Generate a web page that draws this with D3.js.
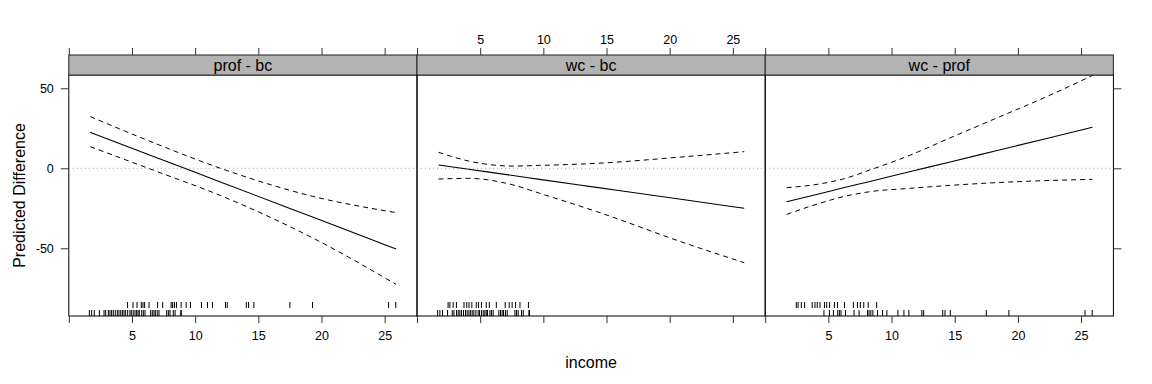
<!DOCTYPE html>
<html>
<head>
<meta charset="utf-8">
<script src="https://cdn.jsdelivr.net/npm/d3@7"></script>
<style>
  body { margin: 0; background: #fff; }
  svg { font-family: "Liberation Sans", Arial, Helvetica, sans-serif; }
</style>
</head>
<body>
<svg id="chart" width="1152" height="384"></svg>
<script>
// --- DATA ---
const panelNames = ["prof - bc", "wc - bc", "wc - prof"];
const xTicks = [0, 5, 10, 15, 20, 25];
const yTicks = [-50, 0, 50];

// fitted difference and confidence band
const grid1 = [1.7, 6.7, 12.0, 19.4, 25.9];
const fit1 = [22.5, 7.4, -8.5, -30.8, -50.4];
const upper1 = [32.3, 16.0, 0, -17.7, -27.7];
const lower1 = [13.5, -1.2, -17, -43.9, -72.5];

const grid2 = [1.7, 4.1, 7.6, 9.7, 14.2, 21.3, 25.9];
const fit2 = [2.1, -0.6, -4.5, -6.9, -11.9, -19.8, -25.0];
const upper2 = [10.0, 4.5, 1.4, 1.8, 3.1, 7.3, 10.4];
const lower2 = [-6.7, -6.3, -10.4, -15.6, -27, -47, -59];

const grid3 = [1.7, 4.3, 6.2, 8.3, 11.5, 14.4, 18.2, 22.2, 25.9];
const fit3 = [-20.9, -15.9, -12.2, -8.2, -2.0, 3.5, 10.8, 18.5, 25.6];
const upper3 = [-12.1, -9.8, -6.6, -1, 8.3, 18.2, 31, 44.5, 58];
const lower3 = [-28.8, -21.9, -17.7, -14.6, -12.5, -10.8, -9.0, -7.7, -6.9];

// income of the observations in each group (rug)
const bcIncome = [1.63, 1.81, 2.02, 2.42, 2.79, 2.92, 3.13, 3.26, 3.39, 3.52, 3.68, 3.84, 3.97,
  4.11, 4.24, 4.37, 4.50, 4.66, 4.84, 4.95, 5.10, 5.24, 5.37, 5.48, 5.58, 5.77, 5.90, 6.03,
  6.48, 6.61, 6.74, 6.85, 7.00, 7.14, 7.75, 7.88, 8.01, 8.27, 8.41, 8.86, 8.90];
const wcIncome = [2.46, 2.60, 2.86, 3.12, 3.72, 3.94, 4.12, 4.34, 4.69, 4.87, 5.10, 5.48, 5.72,
  6.28, 6.98, 7.30, 7.53, 7.80, 8.15, 8.82];
const profIncome = [4.65, 5.08, 5.40, 5.74, 5.87, 6.00, 6.35, 7.03, 7.43, 8.10, 8.22, 8.36, 8.52,
  8.89, 9.29, 9.63, 10.5, 10.98, 11.37, 12.4, 12.54, 14.05, 14.23, 14.65, 17.5, 19.29, 25.31, 25.88];

const panels = [
  { name: panelNames[0], grid: grid1, fit: fit1, upper: upper1, lower: lower1, rugTop: profIncome, rugBottom: bcIncome },
  { name: panelNames[1], grid: grid2, fit: fit2, upper: upper2, lower: lower2, rugTop: wcIncome, rugBottom: bcIncome },
  { name: panelNames[2], grid: grid3, fit: fit3, upper: upper3, lower: lower3, rugTop: wcIncome, rugBottom: profIncome }
];

// --- LAYOUT ---
const left = 68.8, panelW = 348.2;
const stripTop = 55, plotTop = 75, plotBottom = 316;

const svg = d3.select("#chart");
const x = d3.scaleLinear().domain([0, 27.56]).range([0, panelW]);
const y = d3.scaleLinear().domain([-92.3, 58.3]).range([plotBottom, plotTop]);

const line = (xs, ys) => d3.line().x((d, i) => x(xs[i])).y(d => y(d)).curve(d3.curveMonotoneX)(ys);
const xLabel = d => d === 0 ? "" : String(d);

panels.forEach((p, k) => {
  const g = svg.append("g").attr("transform", `translate(${left + k * panelW},0)`);

  // zero reference
  g.append("line")
    .attr("x1", 0).attr("x2", panelW).attr("y1", y(0)).attr("y2", y(0))
    .attr("stroke", "#a0a0a0").attr("stroke-dasharray", "1,3");

  // band + fit
  g.append("path").attr("d", line(p.grid, p.upper))
    .attr("fill", "none").attr("stroke", "#000").attr("stroke-dasharray", "5,4");
  g.append("path").attr("d", line(p.grid, p.lower))
    .attr("fill", "none").attr("stroke", "#000").attr("stroke-dasharray", "5,4");
  g.append("path").attr("d", line(p.grid, p.fit))
    .attr("fill", "none").attr("stroke", "#000").attr("stroke-width", 1.1);

  // rugs
  g.selectAll(".rugTop").data(p.rugTop).join("line")
    .attr("x1", d => x(d)).attr("x2", d => x(d))
    .attr("y1", plotBottom - 14).attr("y2", plotBottom - 8)
    .attr("stroke", "#000");
  g.selectAll(".rugBottom").data(p.rugBottom).join("line")
    .attr("x1", d => x(d)).attr("x2", d => x(d))
    .attr("y1", plotBottom - 6).attr("y2", plotBottom)
    .attr("stroke", "#000");

  // panel frame
  g.append("rect").attr("x", 0).attr("y", plotTop).attr("width", panelW).attr("height", plotBottom - plotTop)
    .attr("fill", "none").attr("stroke", "#000");

  // strip
  g.append("rect").attr("x", 0).attr("y", stripTop).attr("width", panelW).attr("height", plotTop - stripTop)
    .attr("fill", "#b3b3b3").attr("stroke", "#222");
  g.append("text").attr("x", panelW / 2).attr("y", 71).attr("text-anchor", "middle")
    .style("font-size", "16px").text(p.name);

  // x ticks top (labels only on middle panel) and bottom (labels on outer panels)
  const top = d3.axisTop(x).tickValues(xTicks).tickSize(7).tickPadding(4)
    .tickFormat(k === 1 ? xLabel : "");
  const bottom = d3.axisBottom(x).tickValues(xTicks).tickSize(7).tickPadding(8)
    .tickFormat(k === 1 ? "" : xLabel);
  const ga = g.append("g").attr("transform", `translate(0,${stripTop})`).call(top);
  const gb = g.append("g").attr("transform", `translate(0,${plotBottom})`).call(bottom);
  [ga, gb].forEach(a => {
    a.select(".domain").remove();
    a.selectAll("text").style("font-size", "12.5px").attr("fill", "#000").style("font-family", "inherit");
    a.selectAll("line").attr("stroke", "#333");
  });

  // y ticks
  if (k === 0) {
    const ay = g.append("g").call(d3.axisLeft(y).tickValues(yTicks).tickSize(8).tickPadding(7).tickFormat(d3.format("d")));
    ay.select(".domain").remove();
    ay.selectAll("text").style("font-size", "12.5px").attr("fill", "#000").style("font-family", "inherit")
      .text(d => String(d));
    ay.selectAll("line").attr("stroke", "#333");
  }
  if (k === 2) {
    const ay = g.append("g").attr("transform", `translate(${panelW},0)`)
      .call(d3.axisRight(y).tickValues(yTicks).tickSize(8).tickFormat(""));
    ay.select(".domain").remove();
    ay.selectAll("line").attr("stroke", "#333");
  }
});

// axis titles
svg.append("text").attr("x", left + 1.5 * panelW).attr("y", 368).attr("text-anchor", "middle")
  .style("font-size", "16px").text("income");
svg.append("text").attr("transform", `translate(25,${(plotTop + plotBottom) / 2}) rotate(-90)`)
  .attr("text-anchor", "middle").style("font-size", "16px").text("Predicted Difference");
</script>
</body>
</html>
